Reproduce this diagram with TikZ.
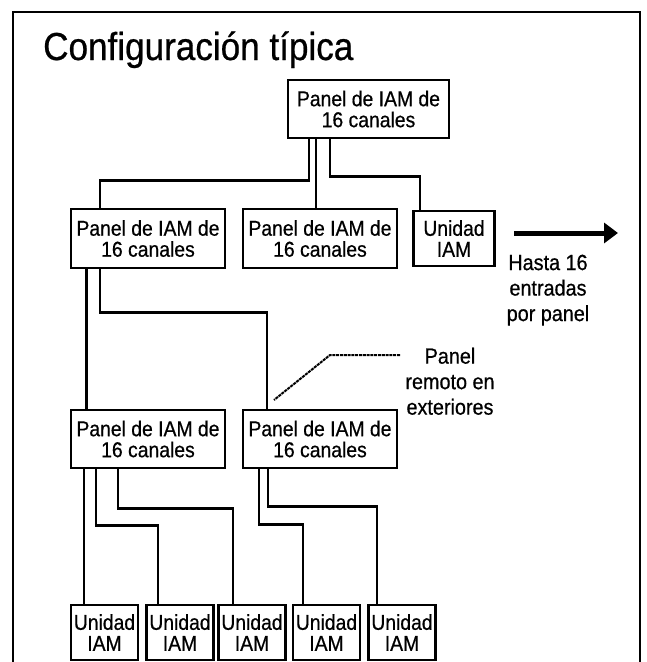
\documentclass[tikz,border=0pt]{standalone}
\usepackage{fontspec}
\setmainfont[FakeStretch=0.9, FakeBold=0.6]{Liberation Sans}
\usetikzlibrary{arrows.meta}
\tikzset{
  wire/.style = {line width=2.8pt},
  panel/.style = {draw, wire, fill=white, minimum width=154pt, minimum height=58pt, inner sep=0pt, align=center, font=\fontsize{21.5}{21}\selectfont},
  unidad/.style = {panel, minimum width=67pt, minimum height=55pt},
  note/.style = {inner sep=0pt, align=center, font=\fontsize{22}{25.5}\selectfont}
}

\begin{document}
\begin{tikzpicture}[x=1pt, y=-1pt]
\useasboundingbox (0,0) rectangle (646,662);
\draw[line width=2.4pt] (13,662) -- (13,12) -- (640,12) -- (640,662);
\node[anchor=base west, inner sep=0pt, font=\fontsize{39}{40}\selectfont] (titulo) at (43,60) {Configuración típica};

\node[panel, minimum width=161pt] (T) at (368.5,109) {Panel de IAM de\\16 canales};
\node[panel, minimum height=59pt] (A) at (148,238.5) {Panel de IAM de\\16 canales};
\node[panel, minimum height=59pt] (B) at (320,238.5) {Panel de IAM de\\16 canales};
\node[panel, minimum width=81pt, minimum height=55pt] (C) at (454,238.5) {Unidad\\IAM};
\node[panel] (D) at (148,439) {Panel de IAM de\\16 canales};
\node[panel] (E) at (320,439) {Panel de IAM de\\16 canales};
\node[unidad] (U1) at (104.5,632.5) {Unidad\\IAM};
\node[unidad] (U2) at (180,632.5) {Unidad\\IAM};
\node[unidad] (U3) at (252,632.5) {Unidad\\IAM};
\node[unidad] (U4) at (326.5,632.5) {Unidad\\IAM};
\node[unidad] (U5) at (402,632.5) {Unidad\\IAM};

\draw[wire] ([xshift=-59.5pt]T.south) |- ([xshift=-48pt,yshift=27pt]A.north) -- ([xshift=-48pt]A.north);
\draw[wire] ([xshift=-52.5pt]T.south) -- ([xshift=-4pt]B.north);
\draw[wire] ([xshift=-38.5pt]T.south) |- ([xshift=-34pt,yshift=33pt]C.north) -- ([xshift=-34pt]C.north);
\draw[wire] ([xshift=-61.5pt]A.south) -- ([xshift=-61.5pt]D.north);
\draw[wire] ([xshift=-48pt]A.south) |- ([xshift=-53pt,yshift=96pt]E.north) -- ([xshift=-53pt]E.north);
\draw[wire] ([xshift=-64pt]D.south) -- ([xshift=-20.5pt]U1.north);
\draw[wire] ([xshift=-52pt]D.south) |- ([xshift=-22pt,yshift=78pt]U2.north) -- ([xshift=-22pt]U2.north);
\draw[wire] ([xshift=-30pt]D.south) |- ([xshift=-19pt,yshift=95pt]U3.north) -- ([xshift=-19pt]U3.north);
\draw[wire] ([xshift=-61pt]E.south) |- ([xshift=-23.5pt,yshift=79pt]U4.north) -- ([xshift=-23.5pt]U4.north);
\draw[wire] ([xshift=-52pt]E.south) |- ([xshift=-25pt,yshift=97pt]U5.north) -- ([xshift=-25pt]U5.north);

\coordinate (f1) at (514,233);
\coordinate (f2) at (618,233);
\draw[line width=5pt, -{Triangle[length=14pt,width=20pt]}] (f1) -- (f2);
\node[note, anchor=north] (hasta) at (548,254.5) {Hasta 16\\entradas\\por panel};

\node[note, anchor=north] (remoto) at (450,347.5) {Panel\\remoto en\\exteriores};
\coordinate (g1) at (400,355);
\coordinate (g2) at (274,400);
\draw[line width=2pt, dash pattern=on 3pt off 0.8pt] (g1) -- ++(-70,0) -- (g2);
\end{tikzpicture}
\end{document}
